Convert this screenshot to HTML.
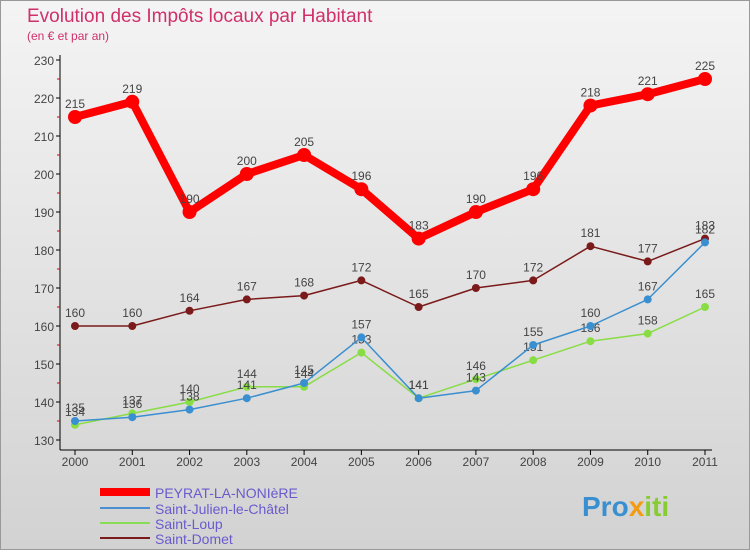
<!DOCTYPE html>
<html><head><meta charset="utf-8"><style>
body{margin:0;width:750px;height:550px;overflow:hidden;font-family:"Liberation Sans",sans-serif}
</style></head><body>
<svg width="750" height="550" xmlns="http://www.w3.org/2000/svg">
<defs><linearGradient id="bg" x1="0" y1="0" x2="0" y2="1"><stop offset="0" stop-color="#f4f4f4"/><stop offset="1" stop-color="#d2d2d2"/></linearGradient></defs>
<rect x="0.5" y="0.5" width="749" height="549" fill="url(#bg)" stroke="#999"/>
<text x="27" y="22" font-size="19" fill="#d0306a">Evolution des Impôts locaux par Habitant</text>
<text x="27" y="40" font-size="12" fill="#d0306a">(en € et par an)</text>
<g id="axes"></g><g id="series"></g>
<g>
<line x1="100" y1="492" x2="150" y2="492" stroke="#f00" stroke-width="8"/><text x="155" y="498" font-size="14" fill="#6a5acd">PEYRAT-LA-NONIèRE</text>
<line x1="100" y1="508" x2="150" y2="508" stroke="#4a90d0" stroke-width="2"/><text x="155" y="514" font-size="14" fill="#6a5acd">Saint-Julien-le-Châtel</text>
<line x1="100" y1="523" x2="150" y2="523" stroke="#88dd55" stroke-width="2"/><text x="155" y="529" font-size="14" fill="#6a5acd">Saint-Loup</text>
<line x1="100" y1="538" x2="150" y2="538" stroke="#7a1a1a" stroke-width="2"/><text x="155" y="544" font-size="14" fill="#6a5acd">Saint-Domet</text>
</g>
<text x="582" y="516" font-size="28" font-weight="bold" fill="#3a8fd0">Pro<tspan fill="#f39c12">x</tspan><tspan fill="#88cc33">iti</tspan></text>
</svg>
<script>
const years=["2000","2001","2002","2003","2004","2005","2006","2007","2008","2009","2010","2011"];
const yTicks=[130,140,150,160,170,180,190,200,210,220,230];
const peyrat=[215,219,190,200,205,196,183,190,196,218,221,225];
const julien=[135,136,138,141,145,157,141,143,155,160,167,182];
const loup=[134,137,140,144,144,153,141,146,151,156,158,165];
const domet=[160,160,164,167,168,172,165,170,172,181,177,183];
const NS="http://www.w3.org/2000/svg";
const X=i=>75+i*(630/11), Y=v=>440-(v-130)*3.8;
function mk(p,t,a){const e=document.createElementNS(NS,t);for(const k in a)e.setAttribute(k,a[k]);p.appendChild(e);return e;}
const ax=document.getElementById('axes');
const ya=mk(ax,'line',{x1:60,y1:55,x2:60,y2:450,stroke:'#000'});


const xa=mk(ax,'line',{x1:60,y1:450,x2:712,y2:450,stroke:'#000'});


yTicks.forEach(v=>{mk(ax,'line',{x1:56,x2:60,y1:Y(v),y2:Y(v),stroke:'#000'});
 if(v<230)mk(ax,'line',{x1:57,x2:60,y1:Y(v+5),y2:Y(v+5),stroke:'#d00'});
 const t=mk(ax,'text',{x:54,y:Y(v)+5,'font-size':12,'text-anchor':'end',fill:'#444'});t.textContent=v;
 
 });
years.forEach((y,i)=>{mk(ax,'line',{x1:X(i),x2:X(i),y1:450,y2:455,stroke:'#000'});
 const t=mk(ax,'text',{x:X(i),y:466,'font-size':12,'text-anchor':'middle',fill:'#444'});t.textContent=y;
 
 });
const sg=document.getElementById('series');
function series(d,col,w,r,name){
 const g=mk(sg,'g',{});
 
 
 mk(g,'polyline',{points:d.map((v,i)=>X(i)+','+Y(v)).join(' '),fill:'none',stroke:col,'stroke-width':w,'stroke-linejoin':'round'});
 d.forEach((v,i)=>{const c=mk(g,'circle',{cx:X(i),cy:Y(v),r:r,fill:col});
  
  
  const t=mk(g,'text',{x:X(i),y:Y(v)-9,'font-size':12,'text-anchor':'middle',fill:'#444'});t.textContent=v;
  
  });
}
series(domet,'#7a1a1a',1.5,4,'saint-domet-series');
series(loup,'#88dd44',1.5,4,'saint-loup-series');
series(julien,'#3a8fd0',1.5,4,'saint-julien-series');
series(peyrat,'#f00',8,7,'peyrat-series');
</script>
</body></html>
